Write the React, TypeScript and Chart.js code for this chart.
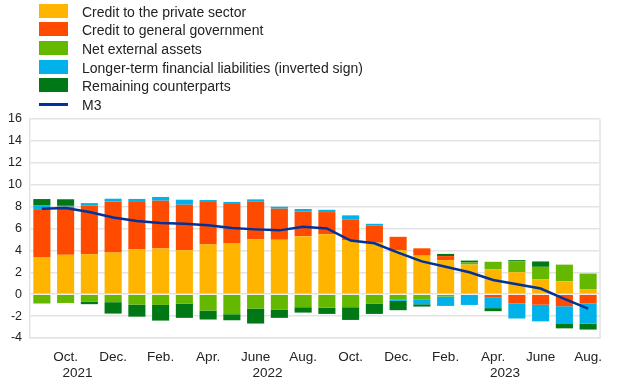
import React, { useEffect, useRef } from "react";
import { Chart, registerables } from "chart.js";

Chart.register(...registerables);

// Months from Sep. 2021 to Aug. 2023
const months = [
  "Sep.", "Oct.", "Nov.", "Dec.",
  "Jan.", "Feb.", "Mar.", "Apr.", "May", "June", "July", "Aug.", "Sep.", "Oct.", "Nov.", "Dec.",
  "Jan.", "Feb.", "Mar.", "Apr.", "May", "June", "July", "Aug.",
];
const years = [
  "2021", "2021", "2021", "2021",
  "2022", "2022", "2022", "2022", "2022", "2022", "2022", "2022", "2022", "2022", "2022", "2022",
  "2023", "2023", "2023", "2023", "2023", "2023", "2023", "2023",
];

const privateSector = [3.35, 3.6, 3.66, 3.81, 4.12, 4.18, 4.02, 4.54, 4.63, 5.0, 4.97, 5.3, 5.47, 4.94, 4.7, 4.02, 3.52, 3.11, 2.71, 2.28, 2.01, 1.37, 1.18, 0.47];
const generalGovernment = [4.42, 4.39, 4.42, 4.64, 4.38, 4.36, 4.15, 3.96, 3.69, 3.48, 2.84, 2.26, 2.03, 1.86, 1.58, 1.22, 0.67, 0.37, 0.0, -0.32, -0.85, -0.96, -1.1, -0.85];
const netExternalAssets = [-0.85, -0.8, -0.67, -0.73, -0.95, -0.98, -0.88, -1.49, -1.83, -1.31, -1.43, -1.19, -1.22, -1.19, -0.85, -0.46, -0.46, -0.22, 0.18, 0.68, 0.98, 1.13, 1.52, 1.41];
const longerTermLiabilities = [0.37, 0.08, 0.24, 0.27, 0.2, 0.34, 0.46, 0.1, 0.1, 0.18, 0.18, 0.22, 0.21, 0.4, 0.15, -0.15, -0.46, -0.85, -0.98, -0.95, -1.37, -1.52, -1.62, -1.83];
const remainingCounterparts = [0.55, 0.6, -0.24, -1.04, -1.1, -1.43, -1.28, -0.82, -0.55, -1.37, -0.73, -0.49, -0.58, -1.16, -0.95, -0.85, -0.21, 0.2, 0.18, -0.28, 0.12, 0.49, -0.4, -0.55];
const m3 = [7.8, 7.88, 7.5, 7.0, 6.68, 6.5, 6.43, 6.3, 6.05, 5.92, 5.83, 6.16, 6.0, 4.9, 4.65, 3.8, 3.0, 2.5, 2.0, 1.3, 0.9, 0.52, -0.42, -1.31];

const seriesNames = [
  "Credit to the private sector",
  "Credit to general government",
  "Net external assets",
  "Longer-term financial liabilities (inverted sign)",
  "Remaining counterparts",
  "M3",
];
const seriesColors = ["#FFB400", "#FF4B00", "#65B800", "#00B1EA", "#007816", "#003299"];

const FONT = "'Liberation Sans', Arial, Helvetica, sans-serif";
const GRID = "#e3e3e3";
const TEXT = "#222222";

export default function App() {
  const ref = useRef<HTMLCanvasElement | null>(null);

  useEffect(() => {
    if (!ref.current) return;
    Chart.defaults.font.family = FONT;

    // year label positions: middle of each year's span of months
    const yearTicks: { value: number; label: string; first: number; lastIdx: number }[] = [];
    years.forEach((y, i) => {
      const last = yearTicks[yearTicks.length - 1];
      if (!last || last.label !== y) yearTicks.push({ value: i, label: y, first: i, lastIdx: i });
      else last.lastIdx = i;
    });
    yearTicks.forEach((t) => (t.value = (t.first + t.lastIdx) / 2));

    const frame = {
      id: "frame",
      afterDatasetsDraw(chart: any) {
        const { ctx, chartArea } = chart;
        ctx.save();
        ctx.strokeStyle = GRID;
        ctx.lineWidth = 1.5;
        ctx.beginPath();
        ctx.moveTo(chartArea.right, chartArea.top);
        ctx.lineTo(chartArea.right, chartArea.bottom);
        ctx.stroke();
        ctx.restore();
      },
    };

    const barData = [privateSector, generalGovernment, netExternalAssets, longerTermLiabilities, remainingCounterparts];

    const chart = new Chart(ref.current, {
      type: "bar",
      data: {
        labels: months,
        datasets: [
          {
            type: "line",
            label: seriesNames[5],
            data: m3,
            borderColor: seriesColors[5],
            backgroundColor: seriesColors[5],
            borderWidth: 2.5,
            pointRadius: 0,
            tension: 0,
            order: 0,
          } as any,
          ...barData.map((d, i) => ({
            type: "bar",
            label: seriesNames[i],
            data: d,
            backgroundColor: seriesColors[i],
            barPercentage: 0.72,
            categoryPercentage: 1,
            order: 1,
          })),
        ],
      },
      options: {
        responsive: false,
        animation: false,
        devicePixelRatio: 1,
        layout: { padding: { top: 119, right: 20, left: 0, bottom: 0 } },
        plugins: { legend: { display: false }, tooltip: { enabled: false } },
        scales: {
          x: {
            stacked: true,
            weight: 0,
            grid: { display: false, drawTicks: false },
            border: { display: true, color: GRID, width: 1.5 },
            ticks: {
              autoSkip: false,
              maxRotation: 0,
              minRotation: 0,
              padding: 11,
              color: TEXT,
              font: { size: 13.5, family: FONT },
              callback: (_v: any, i: number) => (i % 2 === 1 ? months[i] : ""),
            },
            afterFit: (s: any) => {
              s.height = 26;
            },
          },
          x2: {
            type: "linear",
            position: "bottom",
            weight: 1,
            offset: false,
            min: -0.5,
            max: months.length - 0.5,
            grid: { display: false, drawTicks: false, offset: false },
            border: { display: false },
            afterBuildTicks: (s: any) => {
              s.ticks = yearTicks.map((t) => ({ value: t.value }));
            },
            ticks: {
              autoSkip: false,
              maxRotation: 0,
              minRotation: 0,
              padding: 1,
              color: TEXT,
              font: { size: 13.5, family: FONT },
              callback: (v: any) => {
                const t = yearTicks.find((y) => Math.abs(y.value - v) < 0.01);
                return t ? t.label : "";
              },
            },
            afterFit: (s: any) => {
              s.height = 23;
            },
          } as any,
          y: {
            stacked: true,
            min: -4,
            max: 16,
            grid: { color: GRID, lineWidth: 1.5, drawTicks: false },
            border: { display: true, color: GRID, width: 1.5 },
            ticks: {
              stepSize: 2,
              padding: 8,
              color: TEXT,
              font: { size: 12.5, family: FONT },
            },
            afterFit: (s: any) => {
              s.width = 30;
            },
          },
        },
      },
      plugins: [frame],
    });
    return () => chart.destroy();
  }, []);

  return (
    <div
      style={{
        position: "fixed",
        left: 0,
        top: 0,
        width: 620,
        height: 387,
        background: "#ffffff",
        fontFamily: FONT,
        overflow: "hidden",
      }}
    >
      <canvas ref={ref} width={620} height={387} style={{ position: "absolute", left: 0, top: 0, width: 620, height: 387 }} />
      {seriesNames.map((name, k) => {
        const center = 10.5 + 18.7 * k;
        const isLine = k === 5;
        return (
          <div
            key={name}
            style={{
              position: "absolute",
              left: 39,
              top: center - 9,
              height: 18,
              display: "flex",
              alignItems: "center",
              whiteSpace: "nowrap",
            }}
          >
            <div
              style={{
                width: 29,
                height: isLine ? 3 : 14,
                background: seriesColors[k],
                flex: "none",
              }}
            />
            <span style={{ marginLeft: 14, fontSize: 14, color: TEXT, lineHeight: "18px", position: "relative", top: 1 }}>{name}</span>
          </div>
        );
      })}
    </div>
  );
}
